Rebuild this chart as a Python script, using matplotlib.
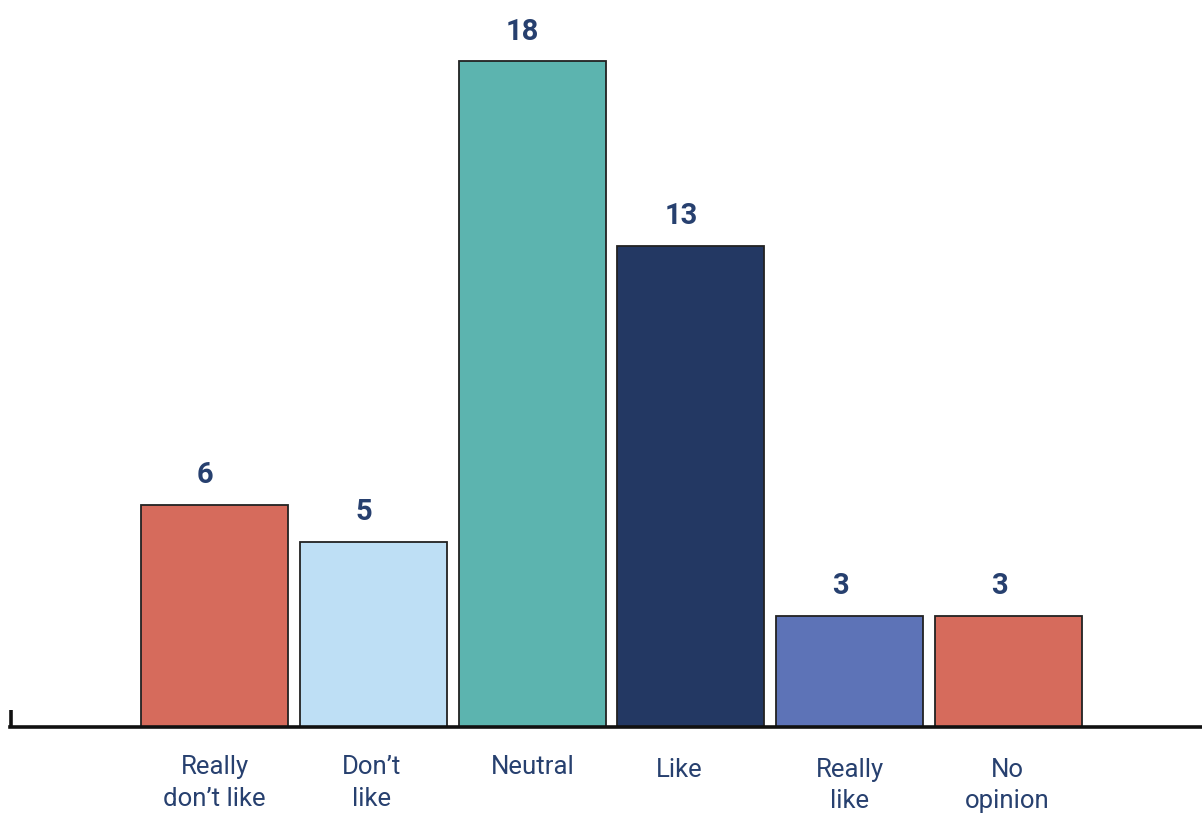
import matplotlib
matplotlib.use("Agg")
import matplotlib.pyplot as plt

categories = ["Really\ndon\u2019t like", "Don\u2019t\nlike", "Neutral", "Like", "Really\nlike", "No\nopinion"]
counts = [6, 5, 18, 13, 3, 3]

colors = ["#D66B5C", "#BEDFF5", "#5CB4AF", "#233863", "#5D73B7", "#D66B5C"]
text_color = "#27406F"
# small horizontal nudges for the category captions
label_shift = [0.0, -0.013, 0.005, -0.075, -0.002, -0.01]
label_dy = [0.0, 0.0, 0.0, -0.003, -0.003, -0.003]

plt.rcParams["font.family"] = ["Roboto", "DejaVu Sans"]

fig = plt.figure(figsize=(12.02, 8.14), dpi=100)
ax = fig.add_axes([10 / 1202, 0.1069, 1192 / 1202, 0.8931])

x = list(range(len(categories)))
ax.bar(x, counts, width=0.926, color=colors, edgecolor="#222222", linewidth=1.3, zorder=2)

ax.set_xlim(-1.288, 6.218)
ax.set_ylim(0, 19.65)

for xi, v in zip(x, counts):
    ax.text(xi - 0.06, v + 0.42, str(v), ha="center", va="bottom",
            fontsize=21, fontweight="bold", color=text_color)

for xi, lab, dx, dy in zip(x, categories, label_shift, label_dy):
    ax.text(xi + dx, -0.039 + dy, lab, transform=ax.get_xaxis_transform(),
            ha="center", va="top", fontsize=18.5, fontweight="normal",
            color=text_color, linespacing=1.42)

for side in ["top", "right", "left"]:
    ax.spines[side].set_visible(False)
ax.spines["bottom"].set_linewidth(2.6)
ax.spines["bottom"].set_color("#111111")
ax.set_xticks([])
ax.set_yticks([])

# short vertical stub at the left end of the baseline
ax.plot([-1.2815, -1.2815], [0, 0.47], color="#111111", linewidth=2.6,
        solid_capstyle="butt", clip_on=False)

fig.savefig("out.png", dpi=100, facecolor="white")
